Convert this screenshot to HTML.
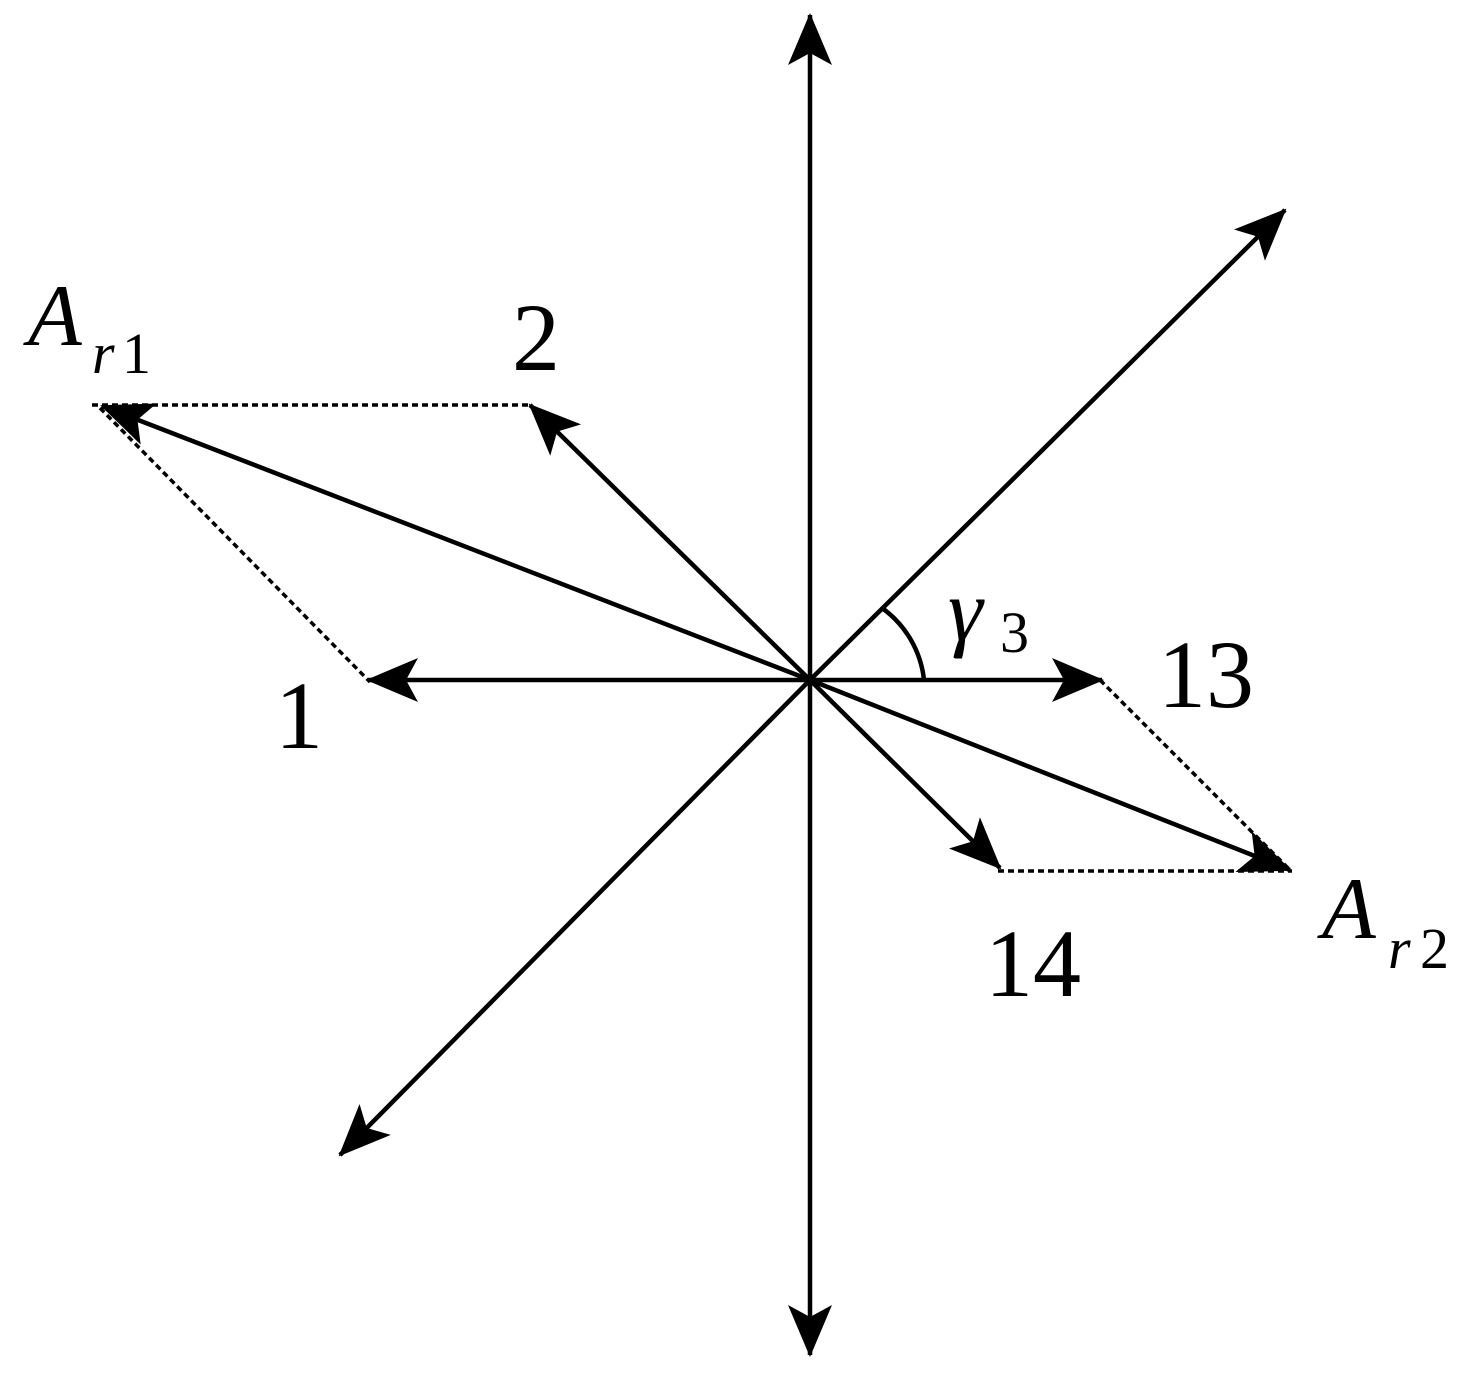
<!DOCTYPE html>
<html><head><meta charset="utf-8"><style>html,body{margin:0;padding:0;background:#fff}
text{font-family:"Liberation Serif","Times New Roman",serif;}</style></head>
<body>
<svg width="1483" height="1374" viewBox="0 0 1483 1374" xmlns="http://www.w3.org/2000/svg">
<defs>
<marker id="a" viewBox="0 0 52 48" refX="50" refY="24" markerWidth="52" markerHeight="48" markerUnits="userSpaceOnUse" orient="auto">
<path d="M0,2 L52,24 L0,46 L12,24 Z" fill="#000"/>
</marker>
</defs>
<g stroke="#000" stroke-width="4.5" fill="none">
<line x1="810" y1="680" x2="810" y2="15" marker-end="url(#a)"/>
<line x1="810" y1="680" x2="810" y2="1355" marker-end="url(#a)"/>
<line x1="810" y1="680" x2="1285" y2="210" marker-end="url(#a)"/>
<line x1="810" y1="680" x2="340" y2="1155" marker-end="url(#a)"/>
<line x1="810" y1="680" x2="368" y2="680" marker-end="url(#a)"/>
<line x1="810" y1="680" x2="1102" y2="680" marker-end="url(#a)"/>
<line x1="810" y1="680" x2="530" y2="405" marker-end="url(#a)"/>
<line x1="810" y1="680" x2="1000" y2="868" marker-end="url(#a)"/>
<line x1="810" y1="680" x2="102" y2="406" marker-end="url(#a)"/>
<line x1="810" y1="680" x2="1290" y2="870" marker-end="url(#a)"/>
<path d="M882,608 A102,102 0 0 1 924,680"/>
</g>
<g stroke="#000" stroke-width="3.5" stroke-dasharray="6,4" fill="none">
<line x1="92" y1="405" x2="532" y2="405"/>
<line x1="100" y1="408" x2="370" y2="682"/>
<line x1="1100" y1="680" x2="1290" y2="870"/>
<line x1="998" y1="871" x2="1292" y2="871"/>
</g>
<g fill="#000">
<text x="28" y="345" font-size="88" font-style="italic">A</text>
<text x="92" y="373" font-size="58" font-style="italic">r</text>
<text x="122" y="373" font-size="58">1</text>
<text x="512" y="370" font-size="96">2</text>
<text x="275" y="748" font-size="96">1</text>
<text x="1158" y="707" font-size="96">13</text>
<text x="985" y="996" font-size="96">14</text>
<text x="1322" y="938" font-size="88" font-style="italic">A</text>
<text x="1388" y="968" font-size="58" font-style="italic">r</text>
<text x="1420" y="968" font-size="58">2</text>
<text x="948" y="640" font-size="88" font-style="italic">γ</text>
<text x="1000" y="652" font-size="58">3</text>
</g>
</svg>
</body></html>
